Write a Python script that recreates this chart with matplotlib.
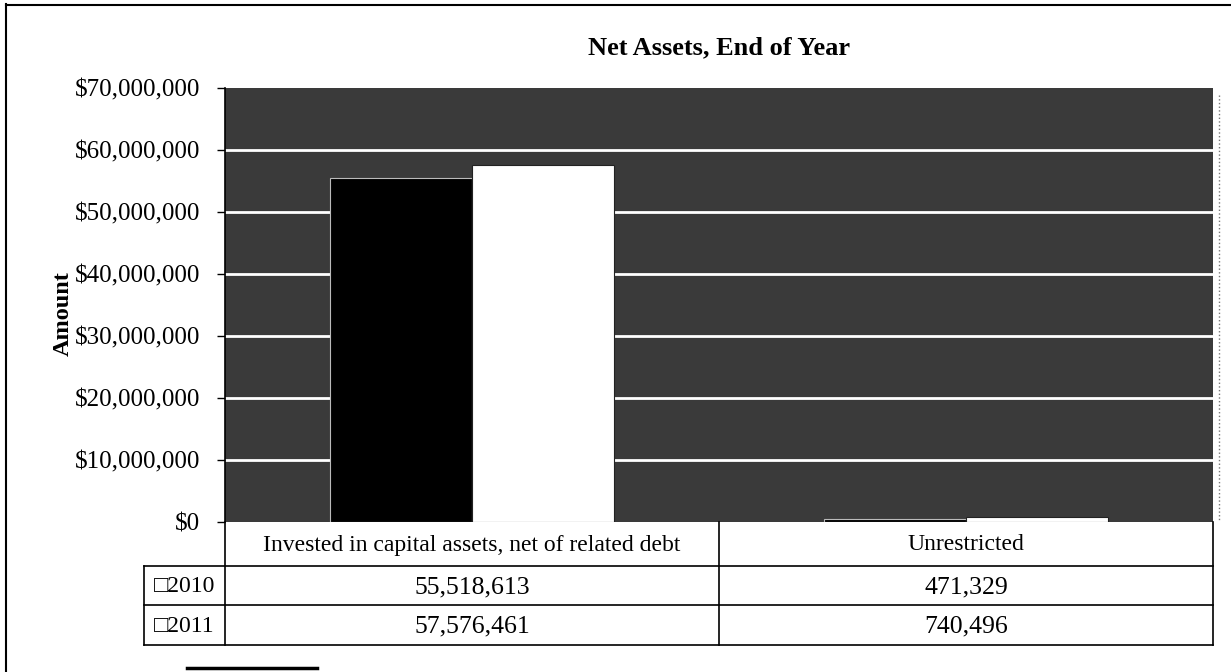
import matplotlib.pyplot as plt
from matplotlib.ticker import FuncFormatter
from matplotlib.transforms import blended_transform_factory
from matplotlib.lines import Line2D

plt.rcParams['font.family'] = ['Liberation Serif', 'DejaVu Sans']

# data
categories = ["Invested in capital assets, net of related debt", "Unrestricted"]
years = ["2010", "2011"]
values_2010 = [55518613, 471329]
values_2011 = [57576461, 740496]
yticks = [0, 10000000, 20000000, 30000000, 40000000, 50000000, 60000000, 70000000]

W, H = 1231, 672
fig = plt.figure(figsize=(W / 100, H / 100), dpi=100)

# plot area in pixels: x 225..1213, y 88..522
L, R, T, B = 225, 1213, 88, 522
ax = fig.add_axes([L / W, 1 - B / H, (R - L) / W, (B - T) / H])
ax.set_facecolor('#3a3a3a')

x = list(range(len(categories)))
bw = 0.2875
ax.bar([i - bw / 2 for i in x], values_2010, bw, color='black',
       edgecolor='#bbbbbb', linewidth=0.8, zorder=3)
ax.bar([i + bw / 2 for i in x], values_2011, bw, color='white',
       edgecolor='#222222', linewidth=0.8, zorder=3)

ax.set_xlim(-0.5, len(categories) - 0.5)
ax.set_ylim(0, 70000000)
ax.set_yticks(yticks)
ax.yaxis.set_major_formatter(FuncFormatter(lambda v, p: f"${int(v):,}"))
ax.tick_params(axis='y', labelsize=18, length=6, width=1, direction='out', pad=12)
ax.set_xticks([])
for y in yticks[1:-1]:
    ax.axhline(y, color='white', lw=2, zorder=1)
for s in ['top', 'right', 'bottom']:
    ax.spines[s].set_visible(False)
ax.spines['left'].set_linewidth(1.2)

ax.set_ylabel("Amount", fontsize=17.5, fontweight='bold')
ax.yaxis.set_label_coords((74 - L) / (R - L), 0.48)
fig.text(0.5 * (L + R) / W, 1 - 48 / H, "Net Assets, End of Year",
         ha='center', va='center', fontsize=19, fontweight='bold')

# data table under the plot
tr = blended_transform_factory(ax.transData, ax.transAxes)
ph = B - T
def ay(py):
    return (B - py) / ph

rows_y = [522, 566, 605, 645]
leg_left = -0.5 - (L - 144) / (R - L) * len(categories)
kw = dict(transform=tr, color='black', lw=1.2, clip_on=False)
for yy in rows_y[1:]:
    ax.add_line(Line2D([leg_left, 1.5], [ay(yy), ay(yy)], **kw))
for xx in [-0.5, 0.5, 1.5]:
    ax.add_line(Line2D([xx, xx], [ay(rows_y[0]), ay(rows_y[-1])], **kw))
ax.add_line(Line2D([leg_left, leg_left], [ay(rows_y[1]), ay(rows_y[-1])], **kw))

for i, c in enumerate(categories):
    ax.text(i, ay(545), c, transform=tr, ha='center', va='center', fontsize=17)
    ax.text(i, ay(587), f"{values_2010[i]:,}", transform=tr, ha='center', va='center', fontsize=18.5)
    ax.text(i, ay(626), f"{values_2011[i]:,}", transform=tr, ha='center', va='center', fontsize=18.5)
for j, yr in enumerate(years):
    ax.text((leg_left - 0.5) / 2, ay([587, 626][j]), "\u25a1" + yr, transform=tr,
            ha='center', va='center', fontsize=17)

# chart border
fig.add_artist(Line2D([6 / W, 6 / W], [0, 1 - 4 / H], color='black', lw=1.5))
fig.add_artist(Line2D([6 / W, 1], [1 - 5 / H, 1 - 5 / H], color='black', lw=1.5))
fig.add_artist(Line2D([1219 / W, 1219 / W], [1 - 95 / H, 1 - 520 / H],
                      color='#777777', lw=1, ls=':'))
fig.add_artist(Line2D([187 / W, 317 / W], [1 - 668 / H, 1 - 668 / H], color='black', lw=2.5))

fig.savefig("out.png", dpi=100)
